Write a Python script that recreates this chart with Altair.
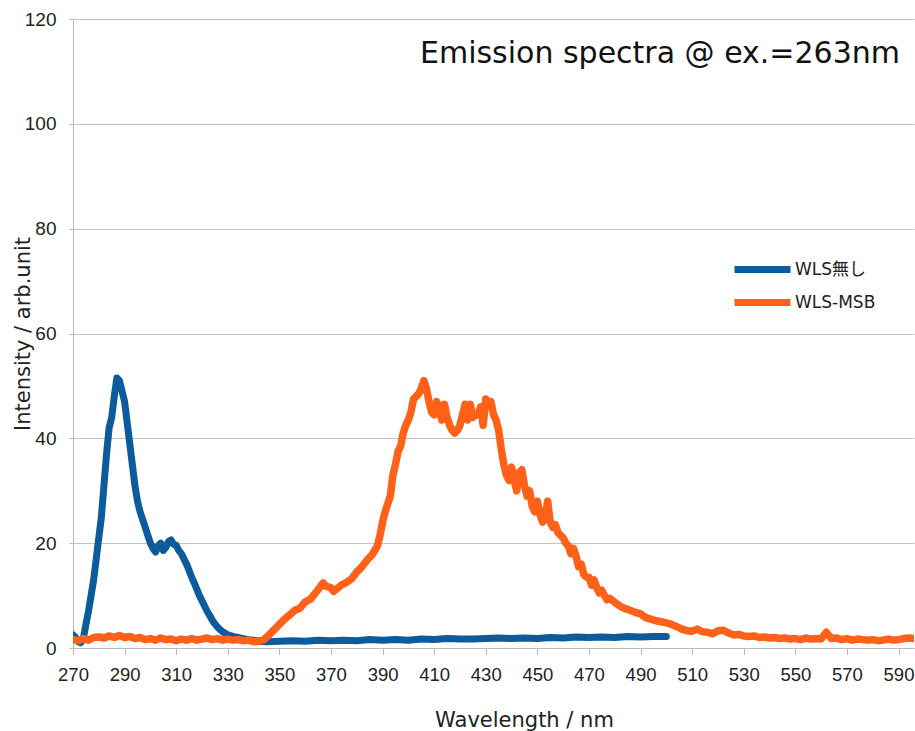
import altair as alt
import pandas as pd

# ---- data ----
blue_nm = [270, 271, 272, 273, 274, 275, 276, 277, 278, 279, 280, 281, 282, 283, 284, 285,
           286, 287, 288, 289, 290, 291, 292, 293, 294, 295, 296, 297, 298, 299, 300, 301,
           302, 303, 304, 305, 306, 307, 308, 309, 310, 311, 312, 313, 314, 315, 316, 317,
           318, 319, 320, 321, 322, 323, 324, 325, 326, 327, 328, 329, 330, 332, 334, 336,
           338, 340, 342, 345, 350, 355, 360, 365, 370, 375, 380, 385, 390, 395, 400, 405,
           410, 415, 420, 425, 430, 435, 440, 445, 450, 455, 460, 465, 470, 475, 480, 485,
           490, 495, 500]
blue_val = [2.5, 2.0, 1.2, 1.0, 1.8, 4.5, 7.0, 10.0, 13.0, 17.0, 21.0, 25.0, 31.0, 37.0, 42.0, 44.0,
            48.0, 51.5, 51.0, 49.0, 47.0, 43.0, 39.0, 35.0, 31.0, 28.0, 26.0, 24.5, 23.0, 21.5, 20.0, 19.0,
            18.3, 19.5, 20.0, 18.6, 19.2, 20.3, 20.6, 19.8, 19.6, 18.6, 18.0, 17.0, 16.0, 14.8, 13.5, 12.4,
            11.2, 10.0, 9.0, 8.0, 7.0, 6.2, 5.3, 4.6, 4.0, 3.5, 3.1, 2.8, 2.5, 2.2, 2.0, 1.8,
            1.6, 1.5, 1.3, 1.2, 1.3, 1.4, 1.3, 1.5, 1.4, 1.5, 1.4, 1.6, 1.5, 1.6, 1.5, 1.7,
            1.6, 1.8, 1.7, 1.7, 1.8, 1.9, 1.8, 1.9, 1.8, 2.0, 1.9, 2.1, 2.0, 2.1, 2.0, 2.2,
            2.1, 2.2, 2.2]

orange_nm = [270, 272, 274, 276, 278, 280, 282, 284, 286, 288, 290, 292, 294, 296, 298, 300,
             302, 304, 306, 308, 310, 312, 314, 316, 318, 320, 322, 324, 326, 328, 330, 332,
             334, 336, 338, 340, 342, 344, 346, 348, 350, 352, 354, 356, 358, 360, 362, 364,
             366, 367, 368, 370, 371, 372, 374, 376, 378, 380, 382, 384, 386, 388, 389, 390,
             391, 392, 393, 394, 395, 396, 397, 398, 399, 400, 401, 402, 403, 404, 405, 406,
             407, 408, 409, 410, 411, 412, 413, 414, 415, 416, 417, 418, 419, 420, 421, 422,
             423, 424, 425, 426, 427, 428, 429, 430, 431, 432, 433, 434, 435, 436, 437, 438,
             439, 440, 441, 442, 443, 444, 445, 446, 447, 448, 449, 450, 451, 452, 453, 454,
             455, 456, 457, 458, 459, 460, 461, 462, 463, 464, 465, 466, 467, 468, 469, 470,
             471, 472, 473, 474, 475, 476, 477, 478, 480, 482, 484, 486, 488, 490, 492, 494,
             496, 498, 500, 502, 504, 506, 508, 510, 512, 514, 516, 518, 520, 522, 524, 526,
             528, 530, 532, 534, 536, 538, 540, 542, 544, 546, 548, 550, 552, 554, 556, 558,
             560, 562, 564, 566, 568, 570, 572, 574, 576, 578, 580, 582, 584, 586, 588, 590,
             592, 594, 596]
orange_val = [1.6, 1.4, 1.8, 1.5, 2.0, 2.1, 1.9, 2.3, 2.0, 2.4, 2.0, 2.2, 1.8, 2.0, 1.6, 1.8,
              1.5, 1.9, 1.6, 1.7, 1.4, 1.7, 1.5, 1.8, 1.5, 1.7, 1.9, 1.6, 1.8, 1.5, 1.7, 1.5,
              1.6, 1.4, 1.5, 1.2, 1.3, 1.6, 2.5, 3.5, 4.5, 5.5, 6.3, 7.2, 7.6, 8.8, 9.3, 10.5,
              11.8, 12.4, 11.8, 11.5, 10.8, 11.2, 12.0, 12.5, 13.2, 14.5, 15.5, 16.8, 17.8, 19.5, 21.5, 24.0,
              26.0, 27.5, 29.0, 33.0, 35.0, 37.5, 38.5, 41.0, 42.5, 43.5, 45.0, 47.5, 48.0, 48.5, 49.5, 51.0,
              49.5, 47.0, 45.0, 44.5, 47.0, 45.5, 43.5, 46.5, 44.0, 42.5, 41.5, 41.0, 41.5, 42.5, 44.5, 46.5,
              43.5, 46.5, 44.0, 44.5, 44.5, 46.0, 42.5, 47.5, 46.5, 47.0, 44.5, 43.5, 41.5, 38.0, 35.0, 33.0,
              32.0, 34.5, 32.0, 30.0, 33.5, 34.0, 31.0, 29.0, 30.0, 27.0, 26.0, 28.0, 25.5, 24.0, 25.0, 28.0,
              24.0, 23.0, 23.5, 22.0, 21.5, 21.0, 20.0, 19.5, 18.0, 19.0, 17.5, 15.5, 16.0, 14.0, 13.5, 13.5,
              12.0, 13.0, 11.5, 10.5, 11.0, 10.0, 9.2, 9.5, 8.7, 8.0, 7.5, 7.2, 6.8, 6.5, 5.8, 5.5,
              5.2, 5.0, 4.8, 4.5, 4.1, 3.6, 3.3, 3.2, 3.6, 3.1, 3.0, 2.7, 3.3, 3.4, 2.9, 2.5,
              2.6, 2.3, 2.2, 2.3, 2.0, 2.1, 1.9, 2.0, 1.8, 1.9, 1.7, 1.8, 1.6, 1.9, 1.7, 1.8,
              1.7, 3.0, 1.8, 1.9, 1.6, 1.8, 1.5, 1.7, 1.6, 1.5, 1.6, 1.4, 1.5, 1.7, 1.5, 1.6,
              1.8, 1.9, 1.8]

series_names = ["WLS無し", "WLS-MSB"]
series_colors = ["#0B5B9D", "#FF6118"]
x_ticks = list(range(270, 600, 20))
y_ticks = [0, 20, 40, 60, 80, 100, 120]
title_text = "Emission spectra @ ex.=263nm"

blue_df = pd.DataFrame({"nm": blue_nm, "v": blue_val, "s": series_names[0]})
orange_df = pd.DataFrame({"nm": orange_nm, "v": orange_val, "s": series_names[1]})
title_df = pd.DataFrame({"t": [title_text]})

FONT = "DejaVu Sans, Noto Sans CJK JP"
TICKFONT = "Liberation Sans, Noto Sans CJK JP"

x_enc = alt.X("nm:Q",
              scale=alt.Scale(domain=[270, 596], nice=False, zero=False),
              axis=alt.Axis(values=x_ticks, title="Wavelength / nm", grid=False,
                            tickSize=6, labelPadding=11, labelFontSize=18.5,
                            labelFont=TICKFONT, labelColor="#222",
                            domainColor="#bbbbbb", tickColor="#bbbbbb",
                            titleFont=FONT, titleFontSize=21, titleFontWeight="normal",
                            titleColor="#222", titleBaseline="alphabetic",
                            titleX=451, titleY=78, labelFlush=False))
y_enc = alt.Y("v:Q",
              scale=alt.Scale(domain=[0, 120], nice=False),
              axis=alt.Axis(values=y_ticks, title="Intensity / arb.unit", grid=True,
                            gridColor="#c4c4c4", tickSize=4, labelPadding=13,
                            labelFontSize=19, labelFont=TICKFONT, labelColor="#222",
                            domainColor="#bbbbbb", tickColor="#bbbbbb",
                            titleFont=FONT, titleFontSize=21, titleFontWeight="normal",
                            titleColor="#222", titleBaseline="alphabetic", titleX=-44))
color_enc = alt.Color("s:N",
                      scale=alt.Scale(domain=series_names, range=series_colors),
                      legend=alt.Legend(title=None, orient="none", legendX=658, legendY=234,
                                        symbolType="stroke", symbolStrokeWidth=7,
                                        symbolSize=3136, labelFont=FONT, labelFontSize=17,
                                        labelColor="#222", labelOffset=1, rowPadding=0,
                                        clipHeight=33, padding=0))

blue = alt.Chart(blue_df).mark_line(strokeWidth=7, strokeJoin="round", strokeCap="round",
                                    clip=True).encode(x=x_enc, y=y_enc, color=color_enc)
orange = alt.Chart(orange_df).mark_line(strokeWidth=7.5, strokeJoin="round", strokeCap="round",
                                        clip=True).encode(x=x_enc, y=y_enc, color=color_enc)
title = alt.Chart(title_df).mark_text(font=FONT, fontSize=30, align="right",
                                      baseline="alphabetic", color="#111").encode(
    text="t:N", x=alt.value(827), y=alt.value(44))

chart = alt.layer(blue, orange, title).properties(
    width=841, height=629,
    padding={"left": 73, "top": 19, "right": 1, "bottom": 83},
    autosize=alt.AutoSizeParams(type="none"),
    background="white",
).configure_view(stroke=None)

chart.save("out.html", embed_options={"renderer": "svg", "actions": False})
